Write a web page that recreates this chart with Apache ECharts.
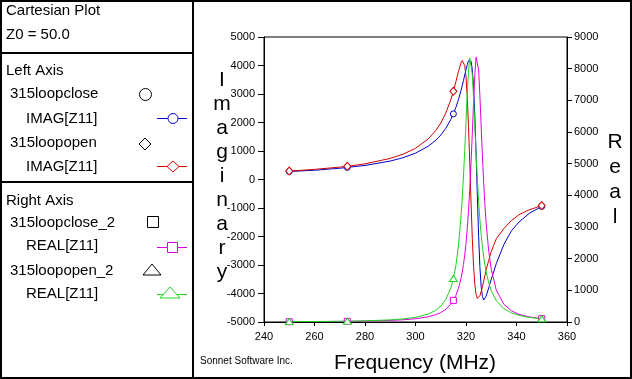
<!DOCTYPE html>
<html><head><meta charset="utf-8">
<script src="https://cdn.jsdelivr.net/npm/echarts@6/dist/echarts.min.js"></script>
<style>html,body{margin:0;padding:0;background:#fff}#c{width:632px;height:379px}</style>
</head><body><div id="c"></div>
<script>
// Frequency sweep (MHz)
const freq = [250,260,270,273,280,290,295,300,305,308,310,312,314,315,316,317,318,318.5,319,319.5,320,320.5,321,321.5,322,322.5,323,323.5,324,324.5,325,325.5,326,326.5,327,327.5,328,329,330,332,335,338,341,345,350];
// 315loopclose IMAG[Z11] (left axis)
const closeImag = [280,325,395,425,493,647,763,924,1165,1375,1559,1796,2109,2303,2533,2801,3116,3291,3475,3666,3855,4031,4169,4230,4153,3855,3238,2240,902,-605,-1991,-3063,-3750,-4108,-4227,-4195,-4090,-3800,-3500,-2950,-2280,-1800,-1490,-1190,-945];
// 315loopopen IMAG[Z11] (left axis)
const openImag = [295,355,435,462,550,740,885,1095,1420,1715,1980,2330,2805,3095,3430,3785,4090,4175,4165,3995,3595,2890,1855,555,-825,-2080,-3045,-3690,-4035,-4175,-4170,-4075,-3935,-3760,-3560,-3370,-3160,-2840,-2520,-2080,-1720,-1440,-1235,-1065,-915];
// 315loopclose_2 REAL[Z11] (right axis)
const closeReal = [9,13,19,21,29,50,69,102,164,230,298,400,563,682,842,1061,1369,1572,1819,2120,2489,2947,3513,4206,5032,5972,6952,7818,8363,8416,7962,7147,6187,5238,4393,3682,3097,2235,1664,1006,557,352,242,161,107];
// 315loopopen_2 REAL[Z11] (right axis)
const openReal = [11,16,23,27,37,67,96,147,249,368,499,711,1081,1374,1791,2398,3298,3895,4609,5429,6330,7214,7937,8333,8288,7815,7054,6164,5286,4493,3810,3239,2765,2377,2057,1792,1573,1233,990,674,421,288,209,146,101];
// Frequencies that carry a marker
const markerFreqs = [250,273,315,350];
const xTicks = [240,260,280,300,320,340,360];
const leftTicks = [-5000,-4000,-3000,-2000,-1000,0,1000,2000,3000,4000,5000];
const rightTicks = [0,1000,2000,3000,4000,5000,6000,7000,8000,9000];

const BLUE='#0000c8', RED='#d00000', MAG='#e000e0', GRN='#20d020';
const FONT='"Liberation Sans", Arial, sans-serif';

function mk(vals, sym, size){
  return freq.map((f,i)=> markerFreqs.indexOf(f)>=0
    ? {value:[f,vals[i]], symbol:sym, symbolSize:size}
    : {value:[f,vals[i]], symbol:'none'});
}
function ser(name, vals, color, sym, size, yIdx){
  return {name, type:'line', yAxisIndex:yIdx, data:mk(vals,sym,size), showSymbol:true,
    symbol:sym, smooth:false, lineStyle:{color, width:1},
    itemStyle:{color:'#fff', borderColor:color, borderWidth:1}, z:3};
}
const chart = echarts.init(document.getElementById('c'), null, {renderer:'canvas'});
const lbl = {color:'#000', fontSize:11, fontFamily:FONT, formatter:v=>String(v)};
const t = (text,x,y,size)=>({type:'text', x, y, style:{text, fill:'#000', font:(size||15)+'px '+FONT, verticalAlign:'middle'}});
chart.setOption({
  animation:false,
  grid:{left:264, right:65, top:37, bottom:57, show:true, borderColor:'#000', borderWidth:1, backgroundColor:'transparent'},
  xAxis:{type:'value', min:xTicks[0], max:xTicks[xTicks.length-1], interval:20,
    axisLine:{onZero:false, lineStyle:{color:'#000'}}, axisTick:{show:true, length:4, lineStyle:{color:'#000'}},
    splitLine:{show:false}, axisLabel:Object.assign({margin:9}, lbl)},
  yAxis:[
    {type:'value', min:leftTicks[0], max:leftTicks[leftTicks.length-1], interval:1000, position:'left',
      axisLine:{show:true, onZero:false, lineStyle:{color:'#000'}}, axisTick:{show:true, length:6, lineStyle:{color:'#000'}},
      splitLine:{show:false}, axisLabel:Object.assign({margin:9}, lbl)},
    {type:'value', min:rightTicks[0], max:rightTicks[rightTicks.length-1], interval:1000, position:'right',
      axisLine:{show:true, onZero:false, lineStyle:{color:'#000'}}, axisTick:{show:true, length:5, lineStyle:{color:'#000'}},
      splitLine:{show:false}, axisLabel:Object.assign({margin:7}, lbl)}
  ],
  series:[
    ser('315loopclose IMAG[Z11]', closeImag, BLUE, 'circle', 6, 0),
    ser('315loopopen IMAG[Z11]', openImag, RED, 'diamond', [7,8], 0),
    ser('315loopclose_2 REAL[Z11]', closeReal, MAG, 'rect', 6, 1),
    ser('315loopopen_2 REAL[Z11]', openReal, GRN, 'triangle', [8,6], 1)
  ],
  graphic:[
    {type:'rect', shape:{x:1,y:1,width:630,height:377}, style:{fill:'none', stroke:'#000', lineWidth:2}},
    {type:'line', shape:{x1:193,y1:0,x2:193,y2:379}, style:{stroke:'#000', lineWidth:2}},
    {type:'line', shape:{x1:0,y1:53,x2:193,y2:53}, style:{stroke:'#000', lineWidth:2}},
    {type:'line', shape:{x1:0,y1:182,x2:193,y2:182}, style:{stroke:'#000', lineWidth:2}},
    t('Cartesian Plot',6,11), t('Z0 = 50.0',6,35),
    t('Left Axis',6,71), t('315loopclose',10,94), t('IMAG[Z11]',26,119),
    t('315loopopen',10,143), t('IMAG[Z11]',26,167),
    t('Right Axis',6,201), t('315loopclose_2',10,223), t('REAL[Z11]',26,246),
    t('315loopopen_2',10,271), t('REAL[Z11]',26,294),
    {type:'circle', shape:{cx:145.5,cy:94.5,r:6}, style:{fill:'#fff', stroke:'#000', lineWidth:1}},
    {type:'polygon', shape:{points:[[145,138],[151,144],[145,150],[139,144]]}, style:{fill:'#fff', stroke:'#000', lineWidth:1}},
    {type:'rect', shape:{x:147.5,y:216.5,width:11,height:11}, style:{fill:'#fff', stroke:'#000', lineWidth:1}},
    {type:'polygon', shape:{points:[[152,264],[161,275],[143,275]]}, style:{fill:'#fff', stroke:'#000', lineWidth:1}},
    {type:'line', shape:{x1:157,y1:118.5,x2:187,y2:118.5}, style:{stroke:BLUE, lineWidth:1}},
    {type:'circle', shape:{cx:173,cy:118.5,r:5}, style:{fill:'#fff', stroke:BLUE, lineWidth:1}},
    {type:'line', shape:{x1:157,y1:166.5,x2:187,y2:166.5}, style:{stroke:RED, lineWidth:1}},
    {type:'polygon', shape:{points:[[173,161],[179,166.5],[173,172],[167,166.5]]}, style:{fill:'#fff', stroke:RED, lineWidth:1}},
    {type:'line', shape:{x1:157,y1:247.5,x2:187,y2:247.5}, style:{stroke:MAG, lineWidth:1}},
    {type:'rect', shape:{x:167.5,y:242.5,width:10,height:10}, style:{fill:'#fff', stroke:MAG, lineWidth:1}},
    {type:'line', shape:{x1:157,y1:294.5,x2:187,y2:294.5}, style:{stroke:GRN, lineWidth:1}},
    {type:'polygon', shape:{points:[[170,287],[180,298],[160,298]]}, style:{fill:'#fff', stroke:GRN, lineWidth:1}},
    {type:'text', x:222, y:176, style:{text:'I\nm\na\ng\ni\nn\na\nr\ny', fill:'#000', font:'21px '+FONT, align:'center', verticalAlign:'middle', lineHeight:24}},
    {type:'text', x:615, y:180, style:{text:'R\ne\na\nl', fill:'#000', font:'21px '+FONT, align:'center', verticalAlign:'middle', lineHeight:25}},
    {type:'text', x:415, y:363, style:{text:'Frequency (MHz)', fill:'#000', font:'21px '+FONT, align:'center', verticalAlign:'middle'}},
    {type:'text', x:200, y:361, style:{text:'Sonnet Software Inc.', fill:'#000', font:'10px '+FONT, verticalAlign:'middle'}}
  ]
});
</script></body></html>
